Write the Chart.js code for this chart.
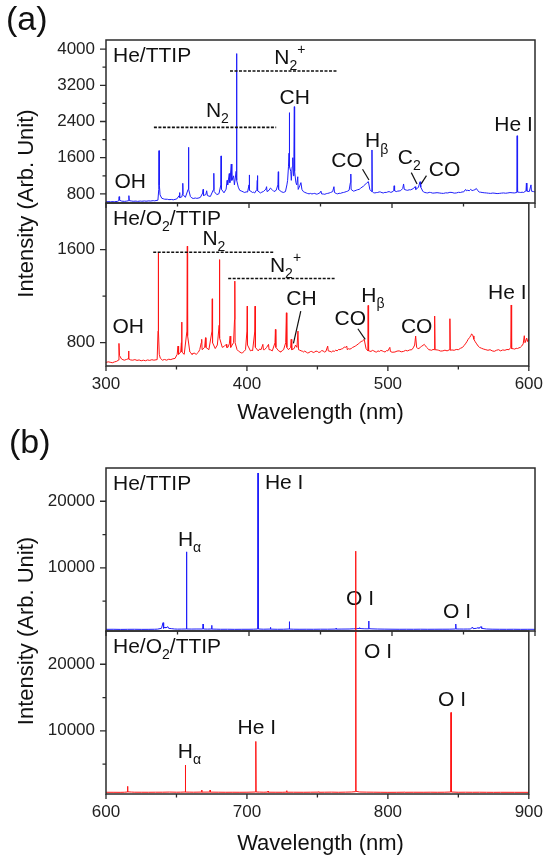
<!DOCTYPE html>
<html><head><meta charset="utf-8">
<script src="https://cdn.jsdelivr.net/npm/chart.js@4.4.1/dist/chart.umd.min.js"></script>
<style>
html,body{margin:0;padding:0;background:#fff;}
#wrap{position:relative;width:551px;height:858px;overflow:hidden;}
canvas{position:absolute;left:0;top:0;}
</style></head><body>
<div id="wrap">
<canvas id="a1" width="551" height="858"></canvas>
<canvas id="a2" width="551" height="858"></canvas>
<canvas id="b1" width="551" height="858"></canvas>
<canvas id="b2" width="551" height="858"></canvas>
</div>
<script>
// ---------------- DATA ----------------
// panel (a), He/TTIP : [wavelength nm, intensity]
const aHeTTIP = [[300,625],[302,632],[303,626],[305,631],[306,628],[308,636],[308.9,650],[309.2,740],[309.5,662],[311,641],[313,636],[314.5,642],[315.7,650],[316,762],[316.3,652],[318,643],[319,638],[321,642],[322,636],[324,643],[325,639],[327,645],[328,640],[330,647],[331,643],[333,652],[334,648],[336.3,662],[336.9,900],[337.1,1756],[337.3,1000],[337.8,780],[339,705],[340,694],[341,684],[343,682],[344,674],[346,678],[347,670],[349.5,690],[351.1,760],[351.4,830],[351.7,720],[353,735],[353.5,800],[353.7,1035],[353.9,785],[355.5,725],[357.4,900],[357.7,1830],[357.9,900],[359,745],[360,712],[361,700],[362.5,710],[363.5,702],[365,712],[366,725],[367.6,820],[367.9,900],[368.2,765],[369.8,785],[370.4,870],[370.6,870],[370.9,765],[372,752],[373,745],[375.2,900],[375.4,1256],[375.6,855],[377.5,785],[379,805],[380.3,1000],[380.5,1640],[380.7,905],[382.5,825],[384,905],[384.7,1100],[385.1,1000],[386.2,1250],[386.6,1050],[387.6,1460],[388,1100],[389.2,1200],[389.8,1000],[391,1300],[391.2,1500],[391.4,3900],[391.6,1100],[392.5,950],[393.5,880],[395,860],[396,845],[397,832],[398,846],[399,842],[400,1000],[400.2,1220],[400.4,880],[402.5,832],[403,840],[404,822],[405.5,900],[405.8,1100],[405.9,1205],[406.1,870],[408,822],[409,840],[410,852],[411.8,905],[412.3,960],[412.6,852],[414,880],[415,930],[416,900],[417.5,852],[419,880],[420.2,1000],[420.5,1290],[420.7,900],[422.5,852],[424,832],[425.5,852],[426.5,1000],[427,1100],[427.6,1400],[428,1700],[428.2,2595],[428.4,1400],[429.2,1300],[429.6,1100],[430.2,1400],[430.6,1600],[431.1,1200],[431.4,1620],[431.7,2727],[431.9,1300],[432.8,1050],[433.4,1000],[434.1,1180],[434.4,900],[435.5,980],[436.3,1050],[437,900],[438,852],[439,835],[440,822],[441,810],[442,802],[443,812],[444,800],[445,808],[446,812],[447,796],[448,800],[449.5,822],[450.3,862],[450.8,800],[452,798],[453,792],[454,806],[455,812],[456,820],[457,832],[458.5,852],[459.4,960],[459.8,832],[461,810],[462,802],[463,815],[464,812],[465,826],[466,832],[467,840],[468,852],[469,862],[470,882],[470.9,1050],[471.2,1240],[471.4,900],[473,862],[474,870],[475,882],[476,895],[477,900],[478,925],[479,950],[480,970],[481,1000],[482.5,1050],[483.5,1070],[484.5,900],[485.8,852],[486.0,1771],[486.2,852],[487,830],[488,822],[489,830],[490,832],[491,845],[492,842],[493,828],[494,822],[495,835],[496,832],[497,845],[498,852],[499,836],[500,842],[501.2,870],[501.5,980],[501.8,870],[503,852],[504,862],[505,866],[506,872],[507.5,920],[508.1,1020],[508.6,900],[510,885],[511,880],[512,892],[513,890],[514,905],[515,920],[516.1,960],[516.6,900],[518,930],[518.5,950],[519.6,1070],[520.1,950],[521.5,862],[522,845],[523,832],[524,826],[525,822],[526,835],[527,832],[528.5,818],[530,822],[531.5,828],[533,822],[534.5,815],[536,812],[537.5,824],[539,822],[540.5,836],[542,832],[543.5,818],[545,822],[546.5,836],[548,832],[549,845],[550,842],[551.5,900],[552,870],[553,882],[554,870],[555,900],[556,875],[557,882],[558,895],[559,920],[560,872],[561,842],[562,838],[563,832],[564.5,826],[566,822],[567.5,816],[569,812],[570.5,820],[572,815],[573.5,808],[575,812],[576.5,818],[578,822],[579.5,816],[581,822],[582.5,830],[584,826],[585.5,822],[587.3,832],[587.5,2085],[587.8,842],[589,836],[590,832],[591,838],[592,832],[593.7,870],[594.0,1040],[594.3,862],[596,852],[597.2,1000],[597.5,862],[599,852],[600,842]];

// panel (a), He/O2/TTIP
const aHeO2TTIP = [[300,630],[301.5,636],[303,632],[304.5,628],[306,635],[307.5,640],[308.8,650],[309.2,794],[309.6,690],[311,660],[312,654],[313,650],[314.5,656],[315.7,662],[316,729],[316.3,660],[317.5,652],[319,650],[320.5,655],[322,648],[323.5,652],[325,645],[326.5,650],[328,645],[329.5,652],[331,648],[332.5,654],[334,650],[336.3,655],[336.9,900],[337.1,1571],[337.3,900],[337.8,700],[338.5,668],[340,650],[341.5,656],[343,650],[344.5,658],[346,655],[347.5,662],[349,665],[350.5,700],[351.1,771],[351.5,700],[353,720],[353.5,800],[353.7,977],[353.9,720],[355.5,700],[357.4,900],[357.7,1629],[357.9,860],[359.5,720],[360.5,708],[361,700],[362.5,712],[364,700],[365.5,718],[366.5,740],[367.6,800],[367.9,829],[368.2,740],[370,760],[370.6,843],[370.9,760],[373,740],[375.2,900],[375.4,1177],[375.6,800],[377.5,750],[379,780],[380.3,950],[380.5,1514],[380.7,840],[382.5,760],[384,770],[385.3,786],[385.7,760],[386.5,760],[387.5,790],[388.1,857],[388.5,760],[390.5,800],[391.2,1000],[391.4,1329],[391.6,800],[393,740],[394,728],[395,720],[396,712],[397,715],[398,726],[399,740],[400,900],[400.2,1114],[400.4,780],[402.5,730],[403.5,736],[404,730],[405.6,900],[405.8,1114],[406,760],[408,730],[409,746],[410,740],[411.3,786],[411.7,740],[412.5,740],[414,760],[415.3,786],[415.7,740],[416.5,740],[418,730],[419.9,800],[420.2,914],[420.5,760],[422.5,730],[423.5,724],[424,720],[425,732],[426,740],[427.5,800],[428.0,1057],[428.3,760],[429.5,740],[431,760],[431.4,829],[431.8,740],[433.5,750],[434.5,780],[435.5,760],[436.2,900],[436.6,740],[437.5,736],[438.5,730],[439.5,726],[440,720],[441,728],[442,720],[443,712],[444,715],[445,724],[446,725],[447,716],[448,720],[449,728],[450,725],[451,716],[452,720],[453,732],[454,730],[455,720],[456,725],[457.3,771],[457.7,730],[459,726],[460,720],[461,730],[462,725],[463,736],[464,730],[465,742],[466,740],[467,746],[468,750],[469,762],[470,760],[470.8,771],[471.2,740],[472,748],[473,745],[474,750],[475,760],[476,765],[477,772],[478,780],[479,790],[480,800],[481,810],[482,815],[483.2,829],[484.5,750],[485.8,730],[486.0,1120],[486.3,730],[487,728],[488,725],[489,734],[490,730],[491,722],[492,720],[493,730],[494,725],[495,734],[496,730],[497,724],[498,720],[499,732],[500,730],[501.4,760],[501.8,725],[503,718],[505,720],[506.5,728],[508,730],[509.5,722],[511,725],[512.5,734],[514,730],[515.5,738],[517,740],[518,756],[519,780],[519.7,857],[520.4,760],[521,752],[522,750],[523,760],[524,770],[525,778],[525.8,786],[526.6,774],[527.5,760],[528.2,752],[529,740],[530,738],[531,735],[532,742],[533.0,740],[533.2,1029],[533.5,740],[535,738],[536,735],[537.5,728],[539,730],[540.5,736],[542,730],[543.8,740],[544.0,1006],[544.3,735],[545.5,738],[547,735],[548.5,742],[550,740],[551.5,752],[553,760],[554,775],[555,790],[556,808],[557,830],[558,845],[558.8,860],[559.4,875],[559.9,871],[560.4,858],[561,830],[562,808],[563,790],[564,772],[565,760],[566.5,752],[568,745],[569.5,740],[571,735],[572.5,740],[574,730],[575.5,726],[577,735],[578.5,740],[580,730],[581.5,738],[583,735],[584.5,742],[586,740],[587.2,760],[587.5,1124],[587.8,750],[589,748],[590,745],[591,752],[592,750],[593,756],[594,760],[595,772],[596,790],[596.8,860],[597.3,800],[598.5,840],[599,810],[599.5,826],[600,817]];

// panel (b), He/TTIP
const bHeTTIP = [[600,750],[605,760],[610,740],[615,752],[620,760],[625,745],[630,750],[634,762],[636,780],[638.8,900],[639.9,1750],[640.3,900],[641.3,1100],[641.8,950],[643.3,1150],[643.8,900],[646,850],[648,800],[650,780],[653,790],[656.1,800],[656.3,12400],[656.5,800],[660,790],[663,800],[667.7,800],[667.9,1550],[668.1,800],[671,780],[673.7,800],[673.9,1350],[674.1,790],[677,775],[680,760],[685,765],[690,750],[695,758],[700,760],[703,770],[706.1,800],[706.3,24250],[706.5,800],[710,770],[714.8,790],[715,1050],[715.2,780],[720,760],[724,765],[728.0,800],[728.2,1900],[728.4,790],[731,770],[735,760],[740,765],[745,760],[750,772],[755,770],[760.7,790],[760.9,900],[761.1,780],[765,790],[770,800],[773,830],[775,850],[777.0,880],[777.2,1000],[777.5,880],[779,850],[781,830],[783.5,820],[783.7,2000],[783.9,850],[786,820],[790,795],[795,780],[800,770],[805,760],[810,765],[815,760],[820,768],[825,760],[830,765],[835,770],[840,772],[844.4,800],[844.6,1550],[844.8,800],[847,795],[850,790],[853,796],[855,800],[856.3,1100],[856.7,850],[859,900],[860.3,1000],[860.7,900],[862.3,1150],[862.7,900],[866,800],[870,772],[875,760],[880,755],[885,762],[890,750],[895,756],[900,750]];

// panel (b), He/O2/TTIP
const bHeO2TTIP = [[600,760],[605,756],[610,750],[613,762],[615.1,800],[615.3,1650],[615.5,820],[618,790],[620,770],[625,765],[630,760],[635,768],[640,770],[645,790],[650,770],[653,775],[656.1,800],[656.3,4850],[656.5,790],[659,780],[662,770],[667.7,790],[667.9,1100],[668.1,780],[673.7,790],[673.9,1100],[674.1,780],[680,768],[685,760],[690,765],[695,760],[700,766],[706.1,800],[706.3,8400],[706.5,800],[709,785],[712,770],[714.8,790],[715,950],[715.2,770],[720,765],[725,760],[728.0,780],[728.2,1000],[728.4,770],[733,766],[740,760],[745,768],[750.8,780],[751,850],[751.2,760],[755,770],[760,780],[765,760],[770,780],[774,800],[777.0,850],[777.2,37000],[777.4,900],[780,800],[785,780],[790,772],[795,760],[800,750],[806,758],[811.8,770],[812,800],[812.2,760],[818,765],[825,760],[830,768],[835,760],[840,766],[844.6,800],[844.8,12750],[845.0,800],[850,760],[855,768],[860,760],[865,766],[870,758],[875,750],[880,756],[890,752],[900,750]];

// tick values
const aXTicks = [300, 400, 500, 600];
const aXMinor = [350, 450, 550];
const bXTicks = [600, 700, 800, 900];
const bXMinor = [650, 750, 850];
const aTopYTicks = [800, 1600, 2400, 3200, 4000];
const aTopYMinor = [1200, 2000, 2800, 3600];
const aBotYTicks = [800, 1600];
const aBotYMinor = [1200];
const bYTicks = [10000, 20000];
const bYMinor = [5000, 15000];

// ---------------- RENDERING ----------------
const FONT = '"Liberation Sans", Arial, Helvetica, sans-serif';
const W = 551, H = 858, L = 106, R = 535;

function drawRich(c, x, y, segs, mode) {
  c.font = '21px ' + FONT;
  let cx = mode === 'center' ? x - c.measureText(segs[0][0]).width / 2 : x;
  for (const seg of segs) {
    const t = seg[0], k = seg[1] || 0;
    c.font = (k ? 14 : 21) + 'px ' + FONT;
    const dy = k === 1 ? 8 : (k === -1 ? -8 : 0);
    c.fillText(t, cx, y + dy);
    cx += c.measureText(t).width;
  }
}

function makeDeco(cfg) {
  return {
    id: 'deco',
    afterDatasetsDraw(chart) {
      const c = chart.ctx, a = chart.chartArea, xs = chart.scales.x, ys = chart.scales.y;
      c.save();
      c.strokeStyle = '#2b2b2b';
      c.lineWidth = 1.3;
      c.beginPath();
      cfg.yTicks.forEach(v => { const p = ys.getPixelForValue(v); c.moveTo(a.left - 6, p); c.lineTo(a.left, p); });
      cfg.yMinor.forEach(v => { const p = ys.getPixelForValue(v); c.moveTo(a.left - 3.5, p); c.lineTo(a.left, p); });
      cfg.xTicks.forEach(v => { const p = xs.getPixelForValue(v); c.moveTo(p, a.bottom); c.lineTo(p, a.bottom + 5); });
      cfg.xMinor.forEach(v => { const p = xs.getPixelForValue(v); c.moveTo(p, a.bottom); c.lineTo(p, a.bottom + 3.5); });
      c.stroke();
      c.lineWidth = 1.5;
      c.strokeRect(a.left, a.top, a.right - a.left, a.bottom - a.top);
      c.strokeStyle = '#111';
      c.setLineDash([3, 1.5]);
      c.lineWidth = 1.6;
      (cfg.dashes || []).forEach(d => {
        const py = ys.getPixelForValue(d[2]);
        c.beginPath(); c.moveTo(xs.getPixelForValue(d[0]), py); c.lineTo(xs.getPixelForValue(d[1]), py); c.stroke();
      });
      c.setLineDash([]);
      c.lineWidth = 1.2;
      (cfg.leaders || []).forEach(d => {
        c.beginPath();
        c.moveTo(xs.getPixelForValue(d[0]), ys.getPixelForValue(d[1]));
        c.lineTo(xs.getPixelForValue(d[2]), ys.getPixelForValue(d[3]));
        c.stroke();
      });
      c.fillStyle = '#111';
      c.textBaseline = 'middle';
      c.textAlign = 'left';
      drawRich(c, a.left + 7, a.top + 16, cfg.name, 'left');
      (cfg.labels || []).forEach(t => drawRich(c, xs.getPixelForValue(t[0]), ys.getPixelForValue(t[1]), t[2], 'center'));
      (cfg.extra || []).forEach(e => {
        c.save();
        c.font = e.size + 'px ' + FONT;
        c.textAlign = e.align;
        c.textBaseline = e.base;
        c.translate(e.x, e.y);
        if (e.rot) c.rotate(-Math.PI / 2);
        c.fillText(e.text, 0, 0);
        c.restore();
      });
      c.restore();
    }
  };
}

function makeChart(id, cfg) {
  return new Chart(document.getElementById(id), {
    type: 'line',
    data: { datasets: [{
      data: cfg.series.map(p => ({ x: p[0], y: p[1] })),
      borderColor: cfg.color, borderWidth: 1, pointRadius: 0, tension: 0, fill: false,
      borderJoinStyle: 'bevel',
      clip: cfg.clip !== undefined ? cfg.clip : 0.5
    }] },
    options: {
      responsive: false, animation: false, devicePixelRatio: 1,
      layout: { padding: { left: 0, right: W - R, top: cfg.top, bottom: H - cfg.bottom - cfg.xh } },
      plugins: { legend: { display: false }, tooltip: { enabled: false }, title: { display: false } },
      scales: {
        x: {
          type: 'linear', min: cfg.xmin, max: cfg.xmax,
          afterBuildTicks: s => { s.ticks = cfg.xTicks.map(v => ({ value: v })); },
          afterFit: s => { s.height = cfg.xh; },
          grid: { display: false, drawTicks: false }, border: { display: false },
          ticks: { display: cfg.xLabels, font: { size: 17, family: FONT }, color: '#222', padding: 8,
                   maxRotation: 0, autoSkip: false, callback: v => String(v) }
        },
        y: {
          type: 'linear', min: cfg.ymin, max: cfg.ymax,
          afterBuildTicks: s => { s.ticks = cfg.yTicks.map(v => ({ value: v })); },
          afterFit: s => { s.width = L; },
          grid: { display: false, drawTicks: false }, border: { display: false },
          ticks: { font: { size: 17, family: FONT }, color: '#222', padding: 11, callback: v => String(v) }
        }
      }
    },
    plugins: [makeDeco(cfg)]
  });
}

const BLUE = 'rgb(30,30,250)', RED = 'rgb(255,20,20)';
const yTitle = 'Intensity (Arb. Unit)', xTitle = 'Wavelength (nm)';

makeChart('a1', {
  series: aHeTTIP, color: BLUE, top: 40, bottom: 203, xh: 0, xLabels: false,
  xmin: 300, xmax: 600, ymin: 600, ymax: 4200,
  xTicks: aXTicks, xMinor: aXMinor, yTicks: aTopYTicks, yMinor: aTopYMinor,
  name: [['He/TTIP']],
  labels: [
    [316.9, 1057, [['OH']]],
    [375.2, 2632, [['N'], ['2', 1]]],
    [423, 3800, [['N'], ['2', 1], ['+', -1]]],
    [432, 2911, [['CH']]],
    [468.6, 1513, [['CO']]],
    [486.5, 1955, [['H'], ['β', 1]]],
    [509.3, 1587, [['C'], ['2', 1]]],
    [536.8, 1330, [['CO']]],
    [585, 2327, [['He I']]]
  ],
  dashes: [[333.5, 419, 2271], [386.7, 462.2, 3514]],
  leaders: [[479.4, 1344, 483.9, 1109], [513.5, 1271, 517.5, 1021], [524.1, 1205, 520.4, 1021]]
});

makeChart('a2', {
  series: aHeO2TTIP, color: RED, top: 203, bottom: 366, xh: 60, xLabels: true,
  xmin: 300, xmax: 600, ymin: 600, ymax: 2000,
  xTicks: aXTicks, xMinor: aXMinor, yTicks: aBotYTicks, yMinor: aBotYMinor,
  name: [['He/O'], ['2', 1], ['/TTIP']],
  labels: [
    [315.7, 937, [['OH']]],
    [373.8, 1691, [['N'], ['2', 1]]],
    [421.7, 1457, [['N'], ['2', 1], ['+', -1]]],
    [438.7, 1171, [['CH']]],
    [473.3, 1000, [['CO']]],
    [486.5, 1200, [['H'], ['β', 1]]],
    [520.4, 929, [['CO']]],
    [584.7, 1224, [['He I']]]
  ],
  dashes: [[333.5, 419, 1577], [386.7, 462.2, 1351]],
  leaders: [[438.2, 1071, 433, 794], [478.7, 920, 483.9, 829]],
  extra: [
    { text: yTitle, x: 27, y: 203.5, size: 22, align: 'center', base: 'middle', rot: true },
    { text: xTitle, x: 320.5, y: 413, size: 22, align: 'center', base: 'middle' },
    { text: '(a)', x: 6, y: 30, size: 34, align: 'left', base: 'alphabetic' }
  ]
});

makeChart('b1', {
  series: bHeTTIP, color: BLUE, top: 468, bottom: 631, xh: 0, xLabels: false,
  xmin: 600, xmax: 900, ymin: 500, ymax: 25000,
  xTicks: bXTicks, xMinor: bXMinor, yTicks: bYTicks, yMinor: bYMinor,
  name: [['He/TTIP']],
  labels: [
    [655.6, 14100, [['H'], ['α', 1]]],
    [724.6, 22750, [['He I']]],
    [777.7, 5250, [['O I']]],
    [845.5, 3400, [['O I']]]
  ]
});

makeChart('b2', {
  series: bHeO2TTIP, color: RED, top: 631, bottom: 794, xh: 60, xLabels: true,
  xmin: 600, xmax: 900, ymin: 500, ymax: 25000,
  xTicks: bXTicks, xMinor: bXMinor, yTicks: bYTicks, yMinor: bYMinor,
  clip: { left: 0.5, right: 0.5, bottom: 0.5, top: false },
  name: [['He/O'], ['2', 1], ['/TTIP']],
  labels: [
    [793, 21750, [['O I']]],
    [845.5, 14600, [['O I']]],
    [707, 10400, [['He I']]],
    [656.3, 6850, [['H'], ['α', 1]]]
  ],
  extra: [
    { text: yTitle, x: 27, y: 631, size: 22, align: 'center', base: 'middle', rot: true },
    { text: xTitle, x: 320.5, y: 844, size: 22, align: 'center', base: 'middle' },
    { text: '(b)', x: 9, y: 453, size: 34, align: 'left', base: 'alphabetic' }
  ]
});
</script>
</body></html>
